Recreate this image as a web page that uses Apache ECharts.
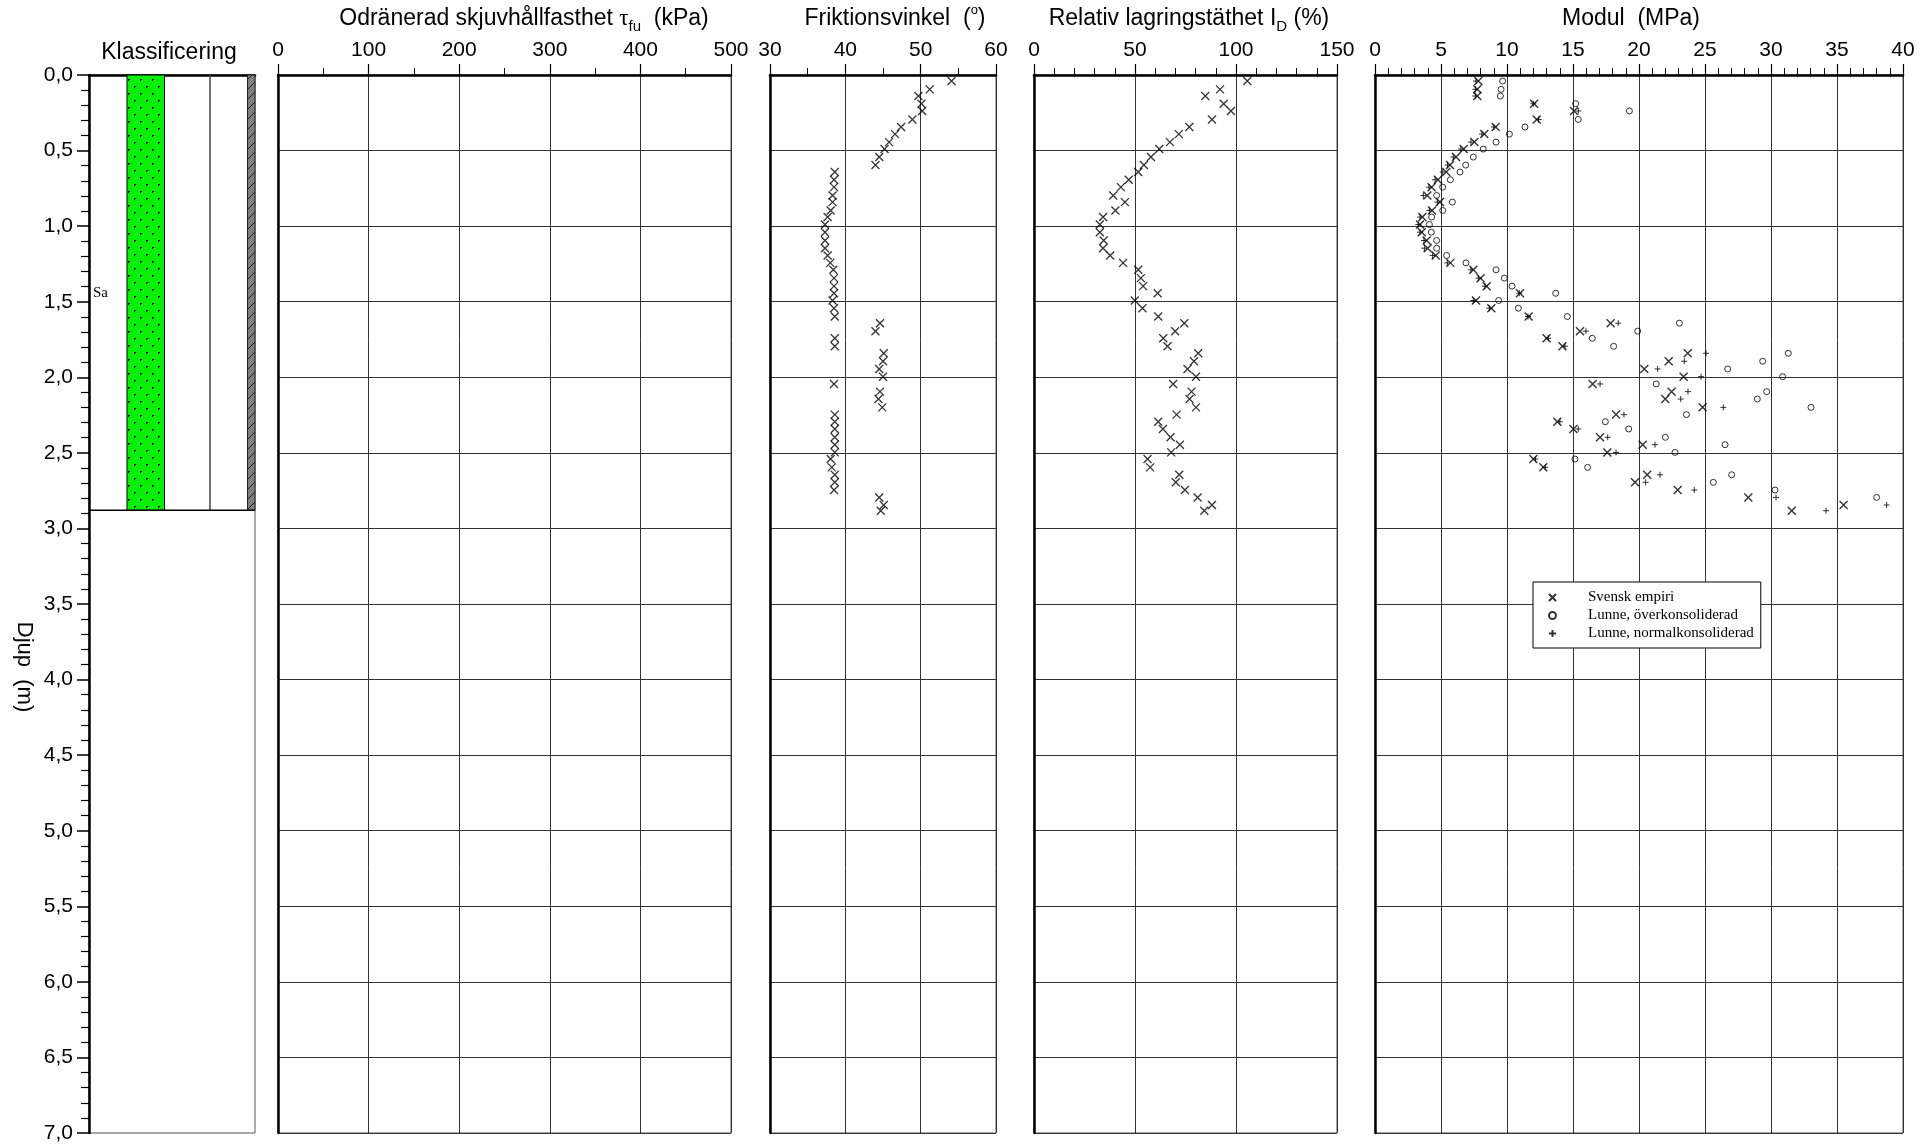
<!DOCTYPE html>
<html><head><meta charset="utf-8">
<script src="https://cdn.jsdelivr.net/npm/echarts@6/dist/echarts.min.js"></script>
<style>html,body{margin:0;padding:0;background:#fff}#c{width:1930px;height:1147px}</style>
</head><body><div id="c"></div>
<script>
// ---------------- data ----------------
const depth = [0.04,0.095,0.139,0.19,0.238,0.294,0.344,0.391,0.444,0.49,
 0.543,0.596,0.642,0.693,0.742,0.797,0.841,0.896,0.94,0.989,
 1.04,1.095,1.146,1.194,1.243,1.289,1.344,1.397,1.444,1.492,
 1.543,1.598,1.642,1.695,1.742,1.795,1.841,1.894,1.945,1.996,
 2.044,2.095,2.144,2.199,2.247,2.294,2.342,2.397,2.446,2.497,
 2.541,2.596,2.645,2.695,2.746,2.795,2.845,2.883];
const friction = [54.1,51.2,49.7,50.1,50.2,48.9,47.4,46.6,45.8,45.2,
 44.5,44.0,38.6,38.5,38.5,38.3,38.3,38.05,37.65,37.3,
 37.3,37.3,37.3,37.65,38.0,38.4,38.5,38.5,38.5,38.3,
 38.5,38.6,44.6,44.0,38.6,38.6,45.1,45.0,44.5,45.0,
 38.5,44.6,44.4,44.9,38.6,38.6,38.6,38.6,38.6,38.6,
 38.05,38.2,38.6,38.6,38.5,44.5,45.1,44.7];
const densityID = [105.6,92.1,84.8,93.9,97.5,88.1,76.9,71.7,67.3,62.0,
 57.9,54.4,51.6,46.9,43.0,39.2,45.0,40.3,34.2,32.6,
 32.6,34.5,34.2,37.7,44.1,51.6,52.9,54.0,61.2,49.9,
 53.7,61.5,74.4,69.9,64.0,66.1,81.3,79.2,76.0,80.2,
 68.9,78.0,77.0,80.2,70.6,61.5,63.8,67.6,72.2,67.9,
 56.2,57.5,71.9,70.2,74.7,81.0,88.1,84.3];
const modulSvensk = [7.83,7.75,7.75,12.05,15.08,12.25,9.14,8.28,7.53,6.72,
 6.14,5.68,5.40,4.77,4.29,3.96,4.92,4.32,3.59,3.41,
 3.54,3.91,3.99,4.6,5.71,7.45,8.0,8.46,10.98,7.65,
 8.81,11.64,17.85,15.53,13.0,14.2,23.69,22.25,20.4,23.38,
 16.49,22.47,21.99,24.82,18.26,13.81,15.03,17.05,20.28,17.6,
 12.0,12.75,20.62,19.7,22.93,28.28,35.5,31.57];
const modulLunneOC = [9.67,9.55,9.5,15.2,19.27,15.4,11.36,10.18,9.17,8.2,
 7.45,6.87,6.44,5.71,5.13,4.67,5.86,5.13,4.29,4.12,
 4.27,4.67,4.67,5.43,6.89,9.17,9.8,10.38,13.69,9.37,
 10.86,14.57,23.06,19.9,16.46,18.08,31.31,29.37,26.72,30.88,
 21.3,29.67,28.96,33.03,23.59,17.45,19.22,22.0,26.52,22.73,
 15.15,16.11,27.02,25.63,30.3,38.0,null,null];
const modulLunneNC = [7.65,7.6,7.6,12.0,15.4,12.4,9.0,8.1,7.27,6.5,
 5.93,5.5,5.13,4.55,4.09,3.66,4.72,4.12,3.41,3.28,
 3.41,3.71,3.74,4.37,5.48,7.27,7.83,8.33,10.93,7.45,
 8.66,11.59,18.43,15.98,13.13,14.39,25.08,23.43,21.41,24.7,
 17.05,23.71,23.16,26.39,18.86,14.0,15.4,17.63,21.21,18.26,
 12.15,12.9,21.59,20.5,24.19,30.38,38.76,34.17];
const layerTop = [0];
const layerBottom = [2.88];
const layerSoil = ['Sa'];
const seriesNames = ['Svensk empiri','Lunne, överkonsoliderad','Lunne, normalkonsoliderad'];

// ---------------- styling / layout ----------------
const FONT = "'Liberation Sans', Arial, sans-serif";
const SERIF = "'Liberation Serif', 'Times New Roman', serif";
const TOP = 75, H = 1058;
const panels = [
  {left:89, width:166},
  {left:278, width:453, min:0, max:500, interval:100, minor:2},
  {left:770, width:226, min:30, max:60, interval:10, minor:2},
  {left:1034, width:303, min:0, max:150, interval:50, minor:5},
  {left:1375, width:528, min:0, max:40, interval:5, minor:5}
];

function makeGreen(){
  const c=document.createElement('canvas');c.width=12;c.height=14;
  const g=c.getContext('2d');g.fillStyle='#08f008';g.fillRect(0,0,12,14);
  g.fillStyle='#000';
  g.beginPath();g.moveTo(2,2);g.lineTo(4.5,2);g.lineTo(2,4.5);g.closePath();g.fill();
  g.beginPath();g.moveTo(8,9);g.lineTo(10.5,9);g.lineTo(8,11.5);g.closePath();g.fill();
  return c;
}
function makeHatch(){
  const c=document.createElement('canvas');c.width=8;c.height=10;
  const g=c.getContext('2d');g.fillStyle='#808080';g.fillRect(0,0,8,10);
  g.strokeStyle='#222';g.lineWidth=1;
  g.beginPath();g.moveTo(0,9);g.lineTo(8,1);g.stroke();
  g.beginPath();g.moveTo(-2,1);g.lineTo(0,-1);g.stroke();
  return c;
}
const greenPat = {image: makeGreen(), repeat:'repeat'};
const hatchPat = {image: makeHatch(), repeat:'repeat'};

const X_SYM = 'path://M0,0L10,10M10,0L0,10';
const PLUS_SYM = 'path://M5,0L5,10M0,5L10,5';

const grids = panels.map(p => ({left:p.left, top:TOP, width:p.width, height:H, show:true,
  borderColor:'#555', borderWidth:1, backgroundColor:'transparent', outerBoundsMode:'none'}));

const xAxes = panels.map((p,i) => i===0 ? {
  gridIndex:0, type:'value', min:0, max:1, position:'top',
  axisLine:{show:true, onZero:false, lineStyle:{color:'#000', width:2.5}},
  axisTick:{show:false}, axisLabel:{show:false}, splitLine:{show:false}
} : {
  gridIndex:i, type:'value', position:'top', min:p.min, max:p.max, interval:p.interval,
  axisLine:{show:true, onZero:false, lineStyle:{color:'#000', width:2.5}},
  axisTick:{show:true, inside:false, length:11, lineStyle:{color:'#000', width:1.2}},
  minorTick:{show:true, splitNumber:p.minor, length:7, lineStyle:{color:'#000', width:1}},
  axisLabel:{show:true, fontSize:21, fontFamily:FONT, color:'#000', margin:14, showMinLabel:true, showMaxLabel:true},
  splitLine:{show:true, lineStyle:{color:'#333', width:1}}
});

const yAxes = panels.map((p,i) => ({
  gridIndex:i, type:'value', inverse:true, min:0, max:7, interval:0.5,
  axisLine:{show:true, onZero:false, lineStyle:{color:'#000', width:2.5}},
  axisTick: i===0 ? {show:true, length:12, lineStyle:{color:'#000', width:1.5}} : {show:false},
  minorTick: i===0 ? {show:true, splitNumber:5, length:8, lineStyle:{color:'#000', width:1.2}} : {show:false},
  axisLabel: i===0 ? {show:true, formatter: v => v.toFixed(1).replace('.', ','), fontSize:21, fontFamily:FONT, color:'#000', margin:16} : {show:false},
  splitLine:{show: i>0, lineStyle:{color:'#333', width:1}}
}));

const pairs = vals => depth.map((d,i) => [vals[i], d]);

const series = [
  {
    type:'custom', coordinateSystem:'cartesian2d', xAxisIndex:0, yAxisIndex:0, clip:false, silent:true,
    data: layerTop.map((t,i) => [t, layerBottom[i]]),
    encode:{x:-1, y:[0,1]},
    renderItem: function(params, api){
      const t = api.value(0), b = api.value(1);
      const p0 = api.coord([0, t]), p1 = api.coord([1, b]);
      const x0 = p0[0], x1 = p1[0], y0 = p0[1], y1 = p1[1], W = x1 - x0;
      const ym = api.coord([0, (t+b)/2])[1];
      return {type:'group', children:[
        {type:'rect', shape:{x:x0+0.229*W, y:y0, width:(0.455-0.229)*W, height:y1-y0},
          style:{fill:greenPat, stroke:'#000', lineWidth:1}},
        {type:'line', shape:{x1:x0+0.729*W, y1:y0, x2:x0+0.729*W, y2:y1},
          style:{stroke:'#444', lineWidth:1.5}},
        {type:'rect', shape:{x:x0+0.955*W, y:y0, width:0.045*W, height:y1-y0},
          style:{fill:hatchPat, stroke:'#222', lineWidth:1}},
        {type:'line', shape:{x1:x0, y1:y1, x2:x1, y2:y1}, style:{stroke:'#000', lineWidth:1.5}},
        {type:'text', x:x0+4, y:ym, style:{text:layerSoil[params.dataIndex], fill:'#000',
          font:'15px ' + SERIF, align:'left', verticalAlign:'middle'}}
      ]};
    }
  },
  {type:'scatter', name:'Friktionsvinkel', xAxisIndex:2, yAxisIndex:2, data:pairs(friction),
    symbol:X_SYM, symbolSize:[8,8], itemStyle:{color:'#000', borderColor:'#000', borderWidth:1.3}, silent:true},
  {type:'scatter', name:'Relativ lagringstäthet', xAxisIndex:3, yAxisIndex:3, data:pairs(densityID),
    symbol:X_SYM, symbolSize:[8,8], itemStyle:{color:'#000', borderColor:'#000', borderWidth:1.3}, silent:true},
  {type:'scatter', name:seriesNames[0], xAxisIndex:4, yAxisIndex:4, data:pairs(modulSvensk),
    symbol:X_SYM, symbolSize:[8,8], itemStyle:{color:'#000', borderColor:'#000', borderWidth:1.4}, silent:true},
  {type:'scatter', name:seriesNames[1], xAxisIndex:4, yAxisIndex:4, data:pairs(modulLunneOC),
    symbol:'circle', symbolSize:6, itemStyle:{color:'rgba(0,0,0,0)', borderColor:'#000', borderWidth:1}, silent:true},
  {type:'scatter', name:seriesNames[2], xAxisIndex:4, yAxisIndex:4, data:pairs(modulLunneNC),
    symbol:PLUS_SYM, symbolSize:6, itemStyle:{color:'#000', borderColor:'#000', borderWidth:1}, silent:true}
];

const rich = {
  a:{fontSize:23, fontFamily:FONT, fill:'#000', lineHeight:30},
  t:{fontSize:23, fontFamily:SERIF, fill:'#000', lineHeight:30},
  sub:{fontSize:15, fontFamily:FONT, fill:'#000', lineHeight:14, verticalAlign:'bottom'},
  sup:{fontSize:13, fontFamily:FONT, fill:'#000', lineHeight:16, verticalAlign:'top'}
};
const titleText = (x, y, text) => ({type:'text', x:x, y:y, silent:true,
  style:{text:text, rich:rich, align:'center', verticalAlign:'middle'}});

const graphic = [
  titleText(169, 53, '{a|Klassificering}'),
  titleText(524, 19, '{a|Odränerad skjuvhållfasthet }{t|τ}{sub|fu}{a|  (kPa)}'),
  titleText(895, 19, '{a|Friktionsvinkel  (}{sup|o}{a|)}'),
  titleText(1189, 19, '{a|Relativ lagringstäthet I}{sub|D}{a| (%)}'),
  titleText(1631, 19, '{a|Modul  (MPa)}'),
  {type:'text', x:24, y:667, rotation:-Math.PI/2, silent:true,
    style:{text:'Djup  (m)', font:'22px ' + FONT, fill:'#000', align:'center', verticalAlign:'middle'}}
];

const option = {
  animation:false,
  backgroundColor:'#fff',
  grid:grids, xAxis:xAxes, yAxis:yAxes, series:series, graphic:graphic,
  legend:{
    data:seriesNames, orient:'vertical', left:1533, top:582,
    padding:[7,7,6,15], itemGap:1, itemWidth:7, itemHeight:7,
    backgroundColor:'#fff', borderColor:'#000', borderWidth:1, borderRadius:0,
    selectedMode:false,
    textStyle:{fontFamily:SERIF, fontSize:15, color:'#000', padding:[0,0,0,27], lineHeight:17}
  }
};
const chart = echarts.init(document.getElementById('c'), null, {width:1930, height:1147});
chart.setOption(option);
</script>
</body></html>
